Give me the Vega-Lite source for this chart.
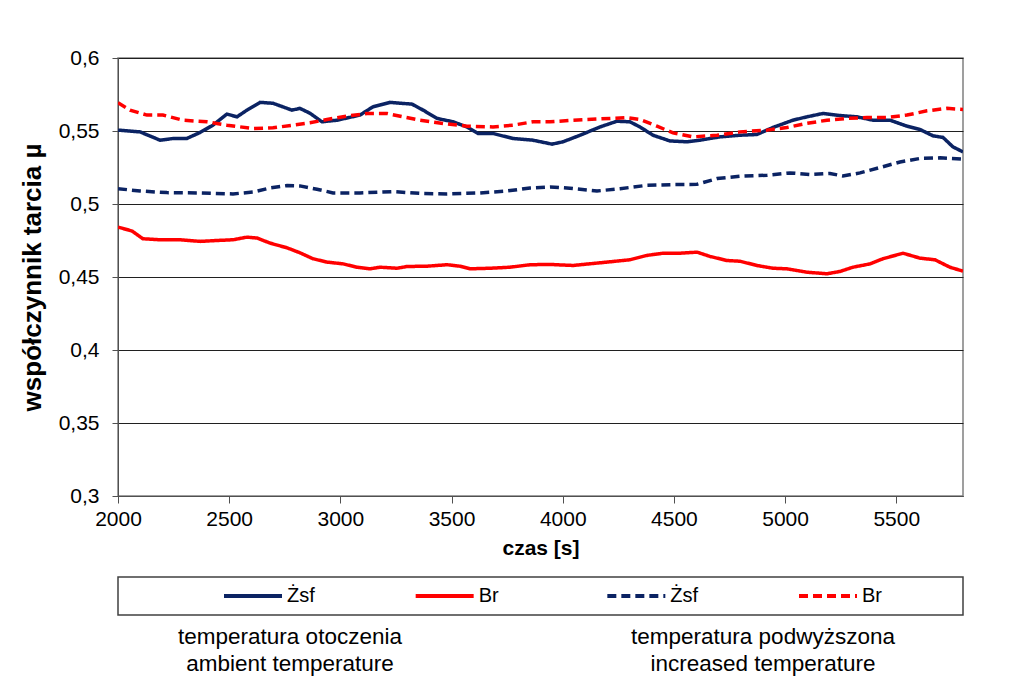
{
  "$schema": "https://vega.github.io/schema/vega-lite/v6.json",
  "padding": {"left": 18, "top": 46, "right": 5, "bottom": 3},
  "background": "white",
  "config": {
    "font": "Liberation Sans",
    "view": {"stroke": null},
    "axis": {"labelFontSize": 21, "labelColor": "#000000", "titleColor": "#000000", "domainColor": "#505050", "tickColor": "#505050", "tickSize": 6, "titleFontWeight": "bold", "labelFont": "Liberation Sans", "titleFont": "Liberation Sans"}
  },
  "datasets": {
    "curves": [
      {"czas":2000,"mu":0.5506,"material":"Żsf","temp":"otoczenia"},
      {"czas":2099,"mu":0.5494,"material":"Żsf","temp":"otoczenia"},
      {"czas":2189,"mu":0.5437,"material":"Żsf","temp":"otoczenia"},
      {"czas":2250,"mu":0.5449,"material":"Żsf","temp":"otoczenia"},
      {"czas":2310,"mu":0.5449,"material":"Żsf","temp":"otoczenia"},
      {"czas":2369,"mu":0.549,"material":"Żsf","temp":"otoczenia"},
      {"czas":2427,"mu":0.554,"material":"Żsf","temp":"otoczenia"},
      {"czas":2490,"mu":0.5616,"material":"Żsf","temp":"otoczenia"},
      {"czas":2535,"mu":0.5597,"material":"Żsf","temp":"otoczenia"},
      {"czas":2580,"mu":0.5643,"material":"Żsf","temp":"otoczenia"},
      {"czas":2639,"mu":0.5696,"material":"Żsf","temp":"otoczenia"},
      {"czas":2697,"mu":0.569,"material":"Żsf","temp":"otoczenia"},
      {"czas":2782,"mu":0.5643,"material":"Żsf","temp":"otoczenia"},
      {"czas":2818,"mu":0.5655,"material":"Żsf","temp":"otoczenia"},
      {"czas":2863,"mu":0.5622,"material":"Żsf","temp":"otoczenia"},
      {"czas":2917,"mu":0.5563,"material":"Żsf","temp":"otoczenia"},
      {"czas":2985,"mu":0.5574,"material":"Żsf","temp":"otoczenia"},
      {"czas":3088,"mu":0.5609,"material":"Żsf","temp":"otoczenia"},
      {"czas":3147,"mu":0.5666,"material":"Żsf","temp":"otoczenia"},
      {"czas":3223,"mu":0.5696,"material":"Żsf","temp":"otoczenia"},
      {"czas":3322,"mu":0.5684,"material":"Żsf","temp":"otoczenia"},
      {"czas":3372,"mu":0.5643,"material":"Żsf","temp":"otoczenia"},
      {"czas":3435,"mu":0.5586,"material":"Żsf","temp":"otoczenia"},
      {"czas":3507,"mu":0.5563,"material":"Żsf","temp":"otoczenia"},
      {"czas":3569,"mu":0.5528,"material":"Żsf","temp":"otoczenia"},
      {"czas":3619,"mu":0.5483,"material":"Żsf","temp":"otoczenia"},
      {"czas":3686,"mu":0.5483,"material":"Żsf","temp":"otoczenia"},
      {"czas":3776,"mu":0.5449,"material":"Żsf","temp":"otoczenia"},
      {"czas":3866,"mu":0.5437,"material":"Żsf","temp":"otoczenia"},
      {"czas":3952,"mu":0.541,"material":"Żsf","temp":"otoczenia"},
      {"czas":4001,"mu":0.5426,"material":"Żsf","temp":"otoczenia"},
      {"czas":4078,"mu":0.5471,"material":"Żsf","temp":"otoczenia"},
      {"czas":4168,"mu":0.5528,"material":"Żsf","temp":"otoczenia"},
      {"czas":4244,"mu":0.5567,"material":"Żsf","temp":"otoczenia"},
      {"czas":4302,"mu":0.5563,"material":"Żsf","temp":"otoczenia"},
      {"czas":4347,"mu":0.5528,"material":"Żsf","temp":"otoczenia"},
      {"czas":4406,"mu":0.5471,"material":"Żsf","temp":"otoczenia"},
      {"czas":4482,"mu":0.5432,"material":"Żsf","temp":"otoczenia"},
      {"czas":4559,"mu":0.5426,"material":"Żsf","temp":"otoczenia"},
      {"czas":4617,"mu":0.5437,"material":"Żsf","temp":"otoczenia"},
      {"czas":4707,"mu":0.546,"material":"Żsf","temp":"otoczenia"},
      {"czas":4797,"mu":0.5471,"material":"Żsf","temp":"otoczenia"},
      {"czas":4873,"mu":0.5476,"material":"Żsf","temp":"otoczenia"},
      {"czas":4945,"mu":0.5524,"material":"Żsf","temp":"otoczenia"},
      {"czas":5035,"mu":0.5574,"material":"Żsf","temp":"otoczenia"},
      {"czas":5098,"mu":0.5597,"material":"Żsf","temp":"otoczenia"},
      {"czas":5170,"mu":0.562,"material":"Żsf","temp":"otoczenia"},
      {"czas":5247,"mu":0.5606,"material":"Żsf","temp":"otoczenia"},
      {"czas":5323,"mu":0.5597,"material":"Żsf","temp":"otoczenia"},
      {"czas":5395,"mu":0.5574,"material":"Żsf","temp":"otoczenia"},
      {"czas":5472,"mu":0.5574,"material":"Żsf","temp":"otoczenia"},
      {"czas":5548,"mu":0.5533,"material":"Żsf","temp":"otoczenia"},
      {"czas":5607,"mu":0.551,"material":"Żsf","temp":"otoczenia"},
      {"czas":5665,"mu":0.5467,"material":"Żsf","temp":"otoczenia"},
      {"czas":5710,"mu":0.5456,"material":"Żsf","temp":"otoczenia"},
      {"czas":5755,"mu":0.5391,"material":"Żsf","temp":"otoczenia"},
      {"czas":5800,"mu":0.5357,"material":"Żsf","temp":"otoczenia"},

      {"czas":2000,"mu":0.4842,"material":"Br","temp":"otoczenia"},
      {"czas":2063,"mu":0.4815,"material":"Br","temp":"otoczenia"},
      {"czas":2112,"mu":0.4762,"material":"Br","temp":"otoczenia"},
      {"czas":2189,"mu":0.4755,"material":"Br","temp":"otoczenia"},
      {"czas":2279,"mu":0.4755,"material":"Br","temp":"otoczenia"},
      {"czas":2369,"mu":0.4744,"material":"Br","temp":"otoczenia"},
      {"czas":2459,"mu":0.4751,"material":"Br","temp":"otoczenia"},
      {"czas":2517,"mu":0.4755,"material":"Br","temp":"otoczenia"},
      {"czas":2580,"mu":0.4773,"material":"Br","temp":"otoczenia"},
      {"czas":2625,"mu":0.4767,"material":"Br","temp":"otoczenia"},
      {"czas":2684,"mu":0.4732,"material":"Br","temp":"otoczenia"},
      {"czas":2760,"mu":0.47,"material":"Br","temp":"otoczenia"},
      {"czas":2818,"mu":0.4666,"material":"Br","temp":"otoczenia"},
      {"czas":2877,"mu":0.4625,"material":"Br","temp":"otoczenia"},
      {"czas":2940,"mu":0.4602,"material":"Br","temp":"otoczenia"},
      {"czas":3012,"mu":0.459,"material":"Br","temp":"otoczenia"},
      {"czas":3075,"mu":0.4567,"material":"Br","temp":"otoczenia"},
      {"czas":3133,"mu":0.4556,"material":"Br","temp":"otoczenia"},
      {"czas":3178,"mu":0.4567,"material":"Br","temp":"otoczenia"},
      {"czas":3255,"mu":0.456,"material":"Br","temp":"otoczenia"},
      {"czas":3300,"mu":0.4572,"material":"Br","temp":"otoczenia"},
      {"czas":3390,"mu":0.4574,"material":"Br","temp":"otoczenia"},
      {"czas":3480,"mu":0.4584,"material":"Br","temp":"otoczenia"},
      {"czas":3538,"mu":0.4574,"material":"Br","temp":"otoczenia"},
      {"czas":3583,"mu":0.4556,"material":"Br","temp":"otoczenia"},
      {"czas":3673,"mu":0.456,"material":"Br","temp":"otoczenia"},
      {"czas":3763,"mu":0.4567,"material":"Br","temp":"otoczenia"},
      {"czas":3853,"mu":0.4584,"material":"Br","temp":"otoczenia"},
      {"czas":3943,"mu":0.4586,"material":"Br","temp":"otoczenia"},
      {"czas":4046,"mu":0.4579,"material":"Br","temp":"otoczenia"},
      {"czas":4199,"mu":0.4602,"material":"Br","temp":"otoczenia"},
      {"czas":4302,"mu":0.4618,"material":"Br","temp":"otoczenia"},
      {"czas":4379,"mu":0.4648,"material":"Br","temp":"otoczenia"},
      {"czas":4451,"mu":0.4663,"material":"Br","temp":"otoczenia"},
      {"czas":4527,"mu":0.4663,"material":"Br","temp":"otoczenia"},
      {"czas":4604,"mu":0.467,"material":"Br","temp":"otoczenia"},
      {"czas":4662,"mu":0.4641,"material":"Br","temp":"otoczenia"},
      {"czas":4738,"mu":0.4613,"material":"Br","temp":"otoczenia"},
      {"czas":4797,"mu":0.4608,"material":"Br","temp":"otoczenia"},
      {"czas":4873,"mu":0.4579,"material":"Br","temp":"otoczenia"},
      {"czas":4945,"mu":0.456,"material":"Br","temp":"otoczenia"},
      {"czas":5008,"mu":0.4556,"material":"Br","temp":"otoczenia"},
      {"czas":5098,"mu":0.4533,"material":"Br","temp":"otoczenia"},
      {"czas":5188,"mu":0.4522,"material":"Br","temp":"otoczenia"},
      {"czas":5247,"mu":0.4538,"material":"Br","temp":"otoczenia"},
      {"czas":5305,"mu":0.4567,"material":"Br","temp":"otoczenia"},
      {"czas":5382,"mu":0.459,"material":"Br","temp":"otoczenia"},
      {"czas":5440,"mu":0.4625,"material":"Br","temp":"otoczenia"},
      {"czas":5530,"mu":0.4663,"material":"Br","temp":"otoczenia"},
      {"czas":5607,"mu":0.4629,"material":"Br","temp":"otoczenia"},
      {"czas":5674,"mu":0.4618,"material":"Br","temp":"otoczenia"},
      {"czas":5741,"mu":0.4567,"material":"Br","temp":"otoczenia"},
      {"czas":5800,"mu":0.454,"material":"Br","temp":"otoczenia"},

      {"czas":2000,"mu":0.5105,"material":"Żsf","temp":"podwyższona"},
      {"czas":2099,"mu":0.5089,"material":"Żsf","temp":"podwyższona"},
      {"czas":2220,"mu":0.5078,"material":"Żsf","temp":"podwyższona"},
      {"czas":2369,"mu":0.5076,"material":"Żsf","temp":"podwyższona"},
      {"czas":2517,"mu":0.5069,"material":"Żsf","temp":"podwyższona"},
      {"czas":2607,"mu":0.5082,"material":"Żsf","temp":"podwyższona"},
      {"czas":2684,"mu":0.511,"material":"Żsf","temp":"podwyższona"},
      {"czas":2760,"mu":0.5126,"material":"Żsf","temp":"podwyższona"},
      {"czas":2818,"mu":0.5124,"material":"Żsf","temp":"podwyższona"},
      {"czas":2895,"mu":0.5101,"material":"Żsf","temp":"podwyższona"},
      {"czas":2967,"mu":0.5076,"material":"Żsf","temp":"podwyższona"},
      {"czas":3088,"mu":0.5076,"material":"Żsf","temp":"podwyższona"},
      {"czas":3237,"mu":0.5085,"material":"Żsf","temp":"podwyższona"},
      {"czas":3358,"mu":0.5073,"material":"Żsf","temp":"podwyższona"},
      {"czas":3480,"mu":0.5069,"material":"Żsf","temp":"podwyższona"},
      {"czas":3628,"mu":0.5076,"material":"Żsf","temp":"podwyższona"},
      {"czas":3749,"mu":0.5089,"material":"Żsf","temp":"podwyższona"},
      {"czas":3853,"mu":0.511,"material":"Żsf","temp":"podwyższona"},
      {"czas":3943,"mu":0.5117,"material":"Żsf","temp":"podwyższona"},
      {"czas":4019,"mu":0.511,"material":"Żsf","temp":"podwyższona"},
      {"czas":4154,"mu":0.5089,"material":"Żsf","temp":"podwyższona"},
      {"czas":4258,"mu":0.5105,"material":"Żsf","temp":"podwyższona"},
      {"czas":4379,"mu":0.5128,"material":"Żsf","temp":"podwyższona"},
      {"czas":4496,"mu":0.5133,"material":"Żsf","temp":"podwyższona"},
      {"czas":4604,"mu":0.5135,"material":"Żsf","temp":"podwyższona"},
      {"czas":4694,"mu":0.5174,"material":"Żsf","temp":"podwyższona"},
      {"czas":4797,"mu":0.519,"material":"Żsf","temp":"podwyższona"},
      {"czas":4919,"mu":0.5197,"material":"Żsf","temp":"podwyższona"},
      {"czas":5022,"mu":0.5213,"material":"Żsf","temp":"podwyższona"},
      {"czas":5112,"mu":0.5202,"material":"Żsf","temp":"podwyższona"},
      {"czas":5202,"mu":0.5209,"material":"Żsf","temp":"podwyższona"},
      {"czas":5260,"mu":0.5192,"material":"Żsf","temp":"podwyższona"},
      {"czas":5337,"mu":0.5213,"material":"Żsf","temp":"podwyższona"},
      {"czas":5427,"mu":0.525,"material":"Żsf","temp":"podwyższona"},
      {"czas":5517,"mu":0.5288,"material":"Żsf","temp":"podwyższona"},
      {"czas":5607,"mu":0.5312,"material":"Żsf","temp":"podwyższona"},
      {"czas":5697,"mu":0.5316,"material":"Żsf","temp":"podwyższona"},
      {"czas":5800,"mu":0.5307,"material":"Żsf","temp":"podwyższona"},

      {"czas":2000,"mu":0.5693,"material":"Br","temp":"podwyższona"},
      {"czas":2054,"mu":0.5643,"material":"Br","temp":"podwyższona"},
      {"czas":2130,"mu":0.5609,"material":"Br","temp":"podwyższona"},
      {"czas":2202,"mu":0.5609,"material":"Br","temp":"podwyższona"},
      {"czas":2292,"mu":0.5574,"material":"Br","temp":"podwyższona"},
      {"czas":2400,"mu":0.5563,"material":"Br","temp":"podwyższona"},
      {"czas":2490,"mu":0.554,"material":"Br","temp":"podwyższona"},
      {"czas":2607,"mu":0.5517,"material":"Br","temp":"podwyższona"},
      {"czas":2697,"mu":0.5522,"material":"Br","temp":"podwyższona"},
      {"czas":2787,"mu":0.554,"material":"Br","temp":"podwyższona"},
      {"czas":2863,"mu":0.5556,"material":"Br","temp":"podwyższona"},
      {"czas":2940,"mu":0.5579,"material":"Br","temp":"podwyższona"},
      {"czas":3030,"mu":0.5602,"material":"Br","temp":"podwyższona"},
      {"czas":3120,"mu":0.562,"material":"Br","temp":"podwyższona"},
      {"czas":3210,"mu":0.562,"material":"Br","temp":"podwyższona"},
      {"czas":3282,"mu":0.5597,"material":"Br","temp":"podwyższona"},
      {"czas":3358,"mu":0.5574,"material":"Br","temp":"podwyższona"},
      {"czas":3462,"mu":0.5552,"material":"Br","temp":"podwyższona"},
      {"czas":3569,"mu":0.5533,"material":"Br","temp":"podwyższona"},
      {"czas":3686,"mu":0.5528,"material":"Br","temp":"podwyższona"},
      {"czas":3776,"mu":0.554,"material":"Br","temp":"podwyższona"},
      {"czas":3866,"mu":0.5563,"material":"Br","temp":"podwyższona"},
      {"czas":3943,"mu":0.5563,"material":"Br","temp":"podwyższona"},
      {"czas":4046,"mu":0.5574,"material":"Br","temp":"podwyższona"},
      {"czas":4168,"mu":0.5583,"material":"Br","temp":"podwyższona"},
      {"czas":4289,"mu":0.5592,"material":"Br","temp":"podwyższona"},
      {"czas":4347,"mu":0.5579,"material":"Br","temp":"podwyższona"},
      {"czas":4424,"mu":0.5533,"material":"Br","temp":"podwyższona"},
      {"czas":4496,"mu":0.5487,"material":"Br","temp":"podwyższona"},
      {"czas":4586,"mu":0.546,"material":"Br","temp":"podwyższona"},
      {"czas":4694,"mu":0.5471,"material":"Br","temp":"podwyższona"},
      {"czas":4797,"mu":0.5494,"material":"Br","temp":"podwyższona"},
      {"czas":4919,"mu":0.5506,"material":"Br","temp":"podwyższona"},
      {"czas":5008,"mu":0.5524,"material":"Br","temp":"podwyższona"},
      {"czas":5098,"mu":0.5552,"material":"Br","temp":"podwyższona"},
      {"czas":5188,"mu":0.5574,"material":"Br","temp":"podwyższona"},
      {"czas":5278,"mu":0.5586,"material":"Br","temp":"podwyższona"},
      {"czas":5368,"mu":0.5592,"material":"Br","temp":"podwyższona"},
      {"czas":5458,"mu":0.5592,"material":"Br","temp":"podwyższona"},
      {"czas":5548,"mu":0.5609,"material":"Br","temp":"podwyższona"},
      {"czas":5638,"mu":0.5638,"material":"Br","temp":"podwyższona"},
      {"czas":5728,"mu":0.5655,"material":"Br","temp":"podwyższona"},
      {"czas":5800,"mu":0.5648,"material":"Br","temp":"podwyższona"}
    ],
    "legend": [
      {"key":"Żsf otoczenia","label":"Żsf","material":"Żsf","temp":"otoczenia"},
      {"key":"Br otoczenia","label":"Br","material":"Br","temp":"otoczenia"},
      {"key":"Żsf podwyższona","label":"Żsf","material":"Żsf","temp":"podwyższona"},
      {"key":"Br podwyższona","label":"Br","material":"Br","temp":"podwyższona"}
    ],
    "captions": [
      {"temp":"otoczenia","caption":"temperatura otoczenia\nambient temperature"},
      {"temp":"podwyższona","caption":"temperatura podwyższona\nincreased temperature"}
    ]
  },
  "spacing": 81,
  "bounds": "flush",
  "resolve": {"scale": {"x": "independent", "y": "independent", "color": "shared", "strokeDash": "shared"}},
  "vconcat": [
    {
      "width": 845,
      "height": 438,
      "view": {"stroke": "#808080", "strokeWidth": 1.5},
      "data": {"name": "curves"},
      "mark": {"type": "line", "strokeWidth": 3.5, "strokeCap": "butt", "clip": true},
      "encoding": {
        "x": {"field": "czas", "type": "quantitative",
          "scale": {"domain": [2000, 5800], "nice": false, "zero": false},
          "axis": {"values": [2000, 2500, 3000, 3500, 4000, 4500, 5000, 5500], "grid": false, "title": "czas [s]", "titleFontSize": 21, "titlePadding": 8, "labelPadding": 5, "tickSize": 7, "labelFlush": false, "format": "d"}},
        "y": {"field": "mu", "type": "quantitative",
          "scale": {"domain": [0.3, 0.6], "nice": false, "zero": false},
          "axis": {"values": [0.3, 0.35, 0.4, 0.45, 0.5, 0.55, 0.6], "grid": true, "gridColor": "#202020", "gridWidth": 1, "title": "współczynnik tarcia µ", "titleFontSize": 26, "titlePadding": 13, "labelPadding": 13, "labelFlush": false, "labelExpr": "replace(format(datum.value, '.2~f'), '.', ',')"}},
        "color": {"field": "material", "type": "nominal", "scale": {"domain": ["Żsf", "Br"], "range": ["#0B2363", "#FF0000"]}, "legend": null},
        "strokeDash": {"field": "temp", "type": "nominal", "scale": {"domain": ["otoczenia", "podwyższona"], "range": [[1, 0], [9, 5]]}, "legend": null}
      }
    },
    {
      "width": 845,
      "height": 38,
      "view": {"stroke": "#404040", "strokeWidth": 1.5},
      "resolve": {"scale": {"x": "independent"}},
      "layer": [
        {
          "data": {"name": "legend"},
          "mark": {"type": "rule", "strokeWidth": 4, "strokeCap": "butt", "xOffset": -63, "x2Offset": -5},
          "encoding": {
            "x": {"field": "key", "type": "nominal", "sort": null, "scale": {"type": "point", "range": [169, 744], "padding": 0}, "axis": null},
            "x2": {"field": "key"},
            "color": {"field": "material", "type": "nominal", "legend": null},
            "strokeDash": {"field": "temp", "type": "nominal", "legend": null}
          }
        },
        {
          "data": {"name": "legend"},
          "mark": {"type": "text", "align": "left", "baseline": "middle", "fontSize": 20, "color": "#000000"},
          "encoding": {
            "x": {"field": "key", "type": "nominal", "sort": null, "scale": {"type": "point", "range": [169, 744], "padding": 0}, "axis": null},
            "text": {"field": "label"}
          }
        },
        {
          "data": {"name": "captions"},
          "mark": {"type": "text", "align": "center", "baseline": "middle", "fontSize": 22.5, "lineBreak": "\n", "lineHeight": 27, "dy": 41, "color": "#000000"},
          "encoding": {
            "x": {"field": "temp", "type": "nominal", "sort": null, "scale": {"type": "point", "range": [172, 645], "padding": 0}, "axis": null},
            "text": {"field": "caption"}
          }
        }
      ]
    }
  ]
}
